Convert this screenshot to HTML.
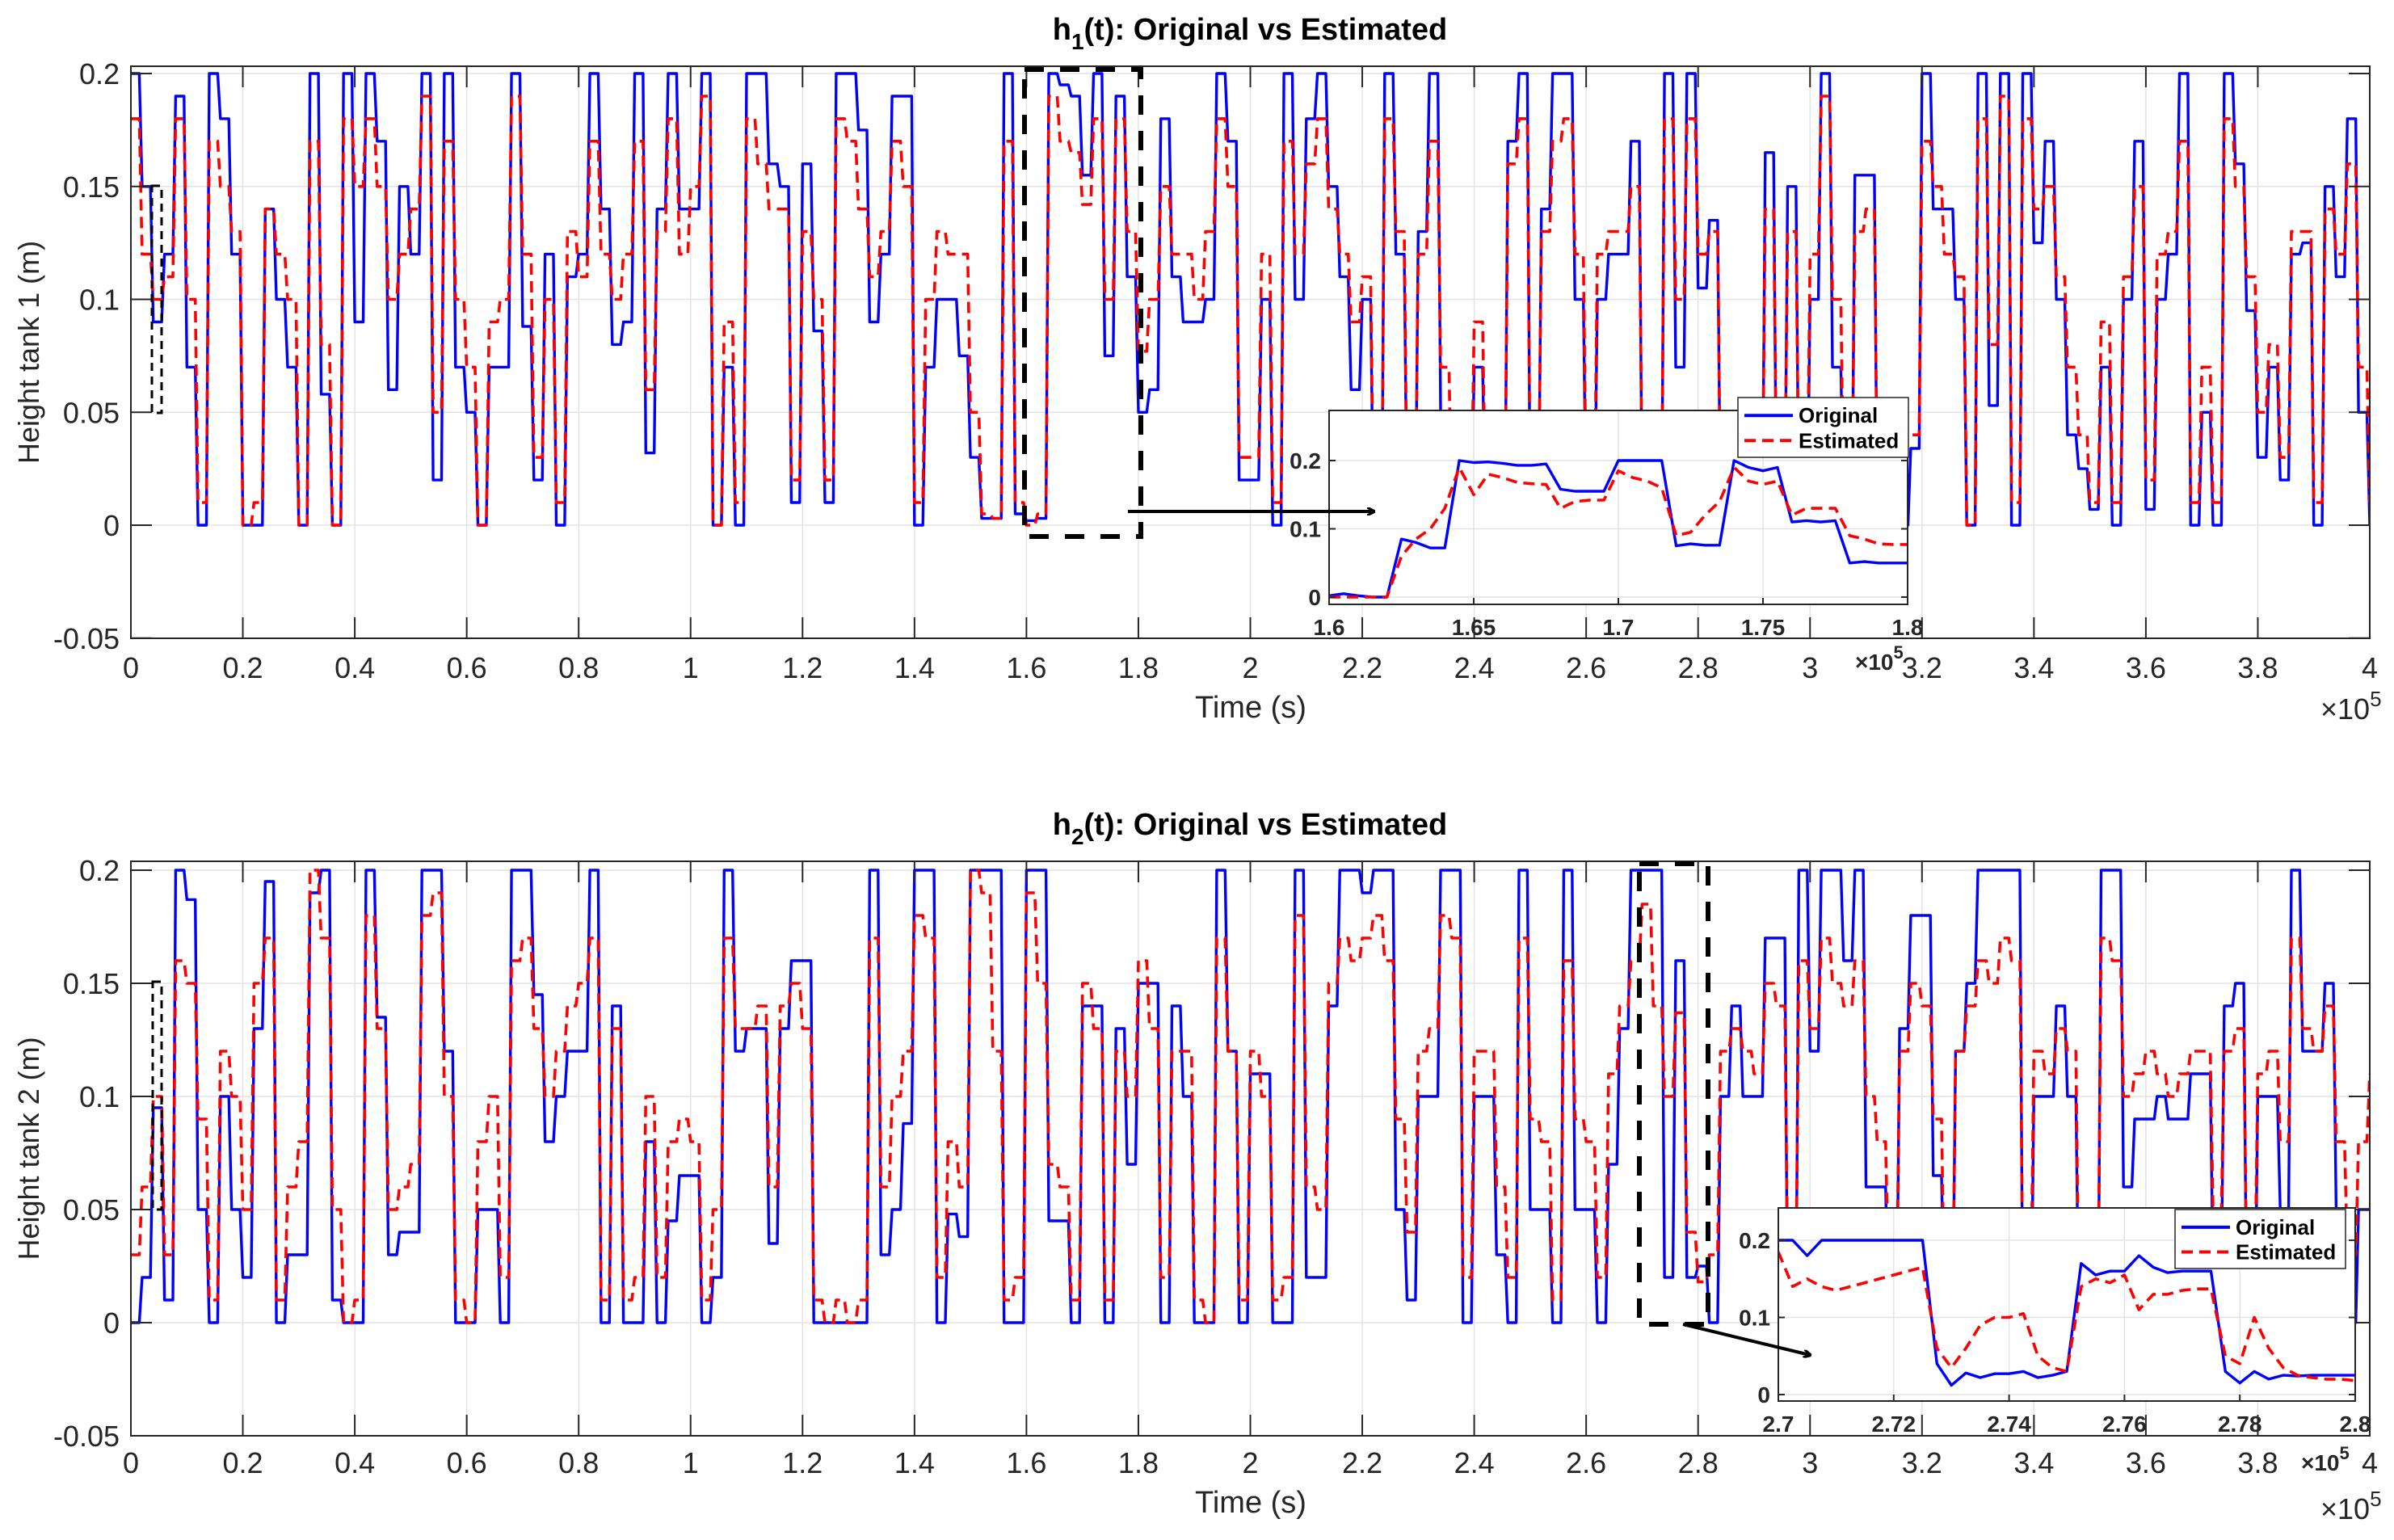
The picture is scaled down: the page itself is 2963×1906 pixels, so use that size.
<!DOCTYPE html>
<html><head><meta charset="utf-8"><style>
html,body{margin:0;padding:0;background:#fff}
svg{display:block}
text{font-family:"Liberation Sans",Arial,sans-serif}
</style></head><body>
<svg id="fig" width="2963" height="1906" viewBox="0 0 2963 1906" xmlns="http://www.w3.org/2000/svg">
<defs>
<clipPath id="cTop"><rect x="162" y="82" width="2771" height="708"/></clipPath>
<clipPath id="cBot"><rect x="162" y="1066" width="2771" height="711"/></clipPath>
<clipPath id="cInTop"><rect x="1645" y="508" width="716" height="240"/></clipPath>
<clipPath id="cInBot"><rect x="2201" y="1495" width="714" height="239"/></clipPath>
<marker id="arr" markerWidth="10" markerHeight="10" refX="8" refY="5" orient="auto" markerUnits="userSpaceOnUse"><path d="M0,0 L10,5 L0,10" fill="none" stroke="#000" stroke-width="3"/></marker>
</defs>
</svg>
<script>
// ---- data: uniform time grid, step 2000 s ----
const stepMain = 2000;
const h1Original = [0.2,0.15,0.09,0.12,0.19,0.07,0,0.2,0.18,0.12,0,0,0.14,0.1,0.07,0,0.2,0.058,0,0.2,0.09,0.2,0.17,0.06,0.15,0.12,0.2,0.02,0.2,0.07,0.05,0,0.07,0.07,0.2,0.088,0.02,0.12,0,0.11,0.12,0.2,0.14,0.08,0.09,0.2,0.032,0.14,0.2,0.14,0.14,0.2,0,0.07,0,0.2,0.2,0.16,0.15,0.01,0.16,0.086,0.01,0.2,0.2,0.175,0.09,
0.12,0.19,0.19,0,0.07,0.1,0.1,0.075,0.03,0.003,0.003,0.2,0.005,
0.002,0.003,0.2,0.195,0.19,0.155,0.2,0.075,0.19,0.11,0.05,
0.06,0.18,0.11,0.09,0.09,0.1,0.2,0.17,0.02,0.02,0.1,0,0.2,0.1,0.18,0.2,0.15,0.11,0.06,0.1,0,0.2,0.12,0,0.13,0.2,0.05,0,0,0.07,0,0,0.17,0.2,0,0.14,0.2,0.2,0.1,0,0.1,0.12,
0.12,0.17,0,0,0.2,0.07,0.2,0.105,0.135,0,0.02,0,0,0.165,0,0.15,0,0.1,0.2,0.07,0,0.155,0.155,0,0,0,0.034,0.2,0.14,0.14,0.1,0,0.2,0.053,0.2,0,0.2,0.125,0.17,0.1,0.04,0.025,0.007,0.07,0,0.1,0.17,0.007,0.1,0.12,0.2,0,0.05,0,0.2,0.16,0.095,0.03,0.07,0.02,0.12,0.125,0,0.15,0.11,0.18,0.05,0];
const h1Estimated = [0.18,0.12,0.1,0.11,0.18,0.1,0.01,0.17,0.15,0.13,0,0.01,0.14,0.12,0.1,0,0.17,0.08,0,0.18,0.15,0.18,0.15,0.1,0.12,0.14,0.19,0.05,0.17,0.1,0.07,0,0.09,0.1,0.19,0.12,0.03,0.1,0.01,0.13,0.11,0.17,0.12,0.1,0.12,0.17,0.06,0.13,0.18,0.12,0.15,0.19,0,0.09,0.01,0.18,0.16,0.14,0.14,0.02,0.13,0.1,0.02,0.18,0.17,0.14,0.11,
0.13,0.17,0.15,0.01,0.1,0.13,0.12,0.12,0.05,0.005,0.003,0.17,0.01,
0,0.005,0.19,0.17,0.165,0.142,0.18,0.1,0.18,0.13,0.077,
0.1,0.15,0.12,0.12,0.1,0.13,0.18,0.15,0.03,0.03,0.12,0.01,0.17,0.12,0.16,0.18,0.14,0.12,0.09,0.11,0.01,0.18,0.13,0.01,0.12,0.17,0.07,0,0.01,0.09,0.01,0,0.16,0.18,0.01,0.13,0.17,0.18,0.12,0.01,0.12,0.13,
0.13,0.15,0.01,0.01,0.18,0.1,0.18,0.12,0.13,0.01,0.03,0,0.01,0.14,0.02,0.13,0.01,0.12,0.19,0.1,0.01,0.13,0.14,0.02,0.05,0.04,0.04,0.17,0.15,0.12,0.11,0,0.18,0.08,0.19,0.01,0.18,0.14,0.15,0.11,0.07,0.04,0.01,0.09,0.01,0.11,0.15,0.02,0.12,0.13,0.17,0.01,0.07,0.01,0.18,0.15,0.11,0.05,0.08,0.03,0.13,0.13,0.01,0.14,0.12,0.16,0.07,0.01];
const h2Original = [0,0.02,0.095,0.01,0.2,0.187,0.05,0,0.1,0.05,0.02,0.13,0.195,0,0.03,0.03,0.19,0.2,0.01,0,0,0.2,0.135,0.03,0.04,0.04,0.2,0.2,0.12,0,0,0.05,0.05,0,0.2,0.2,0.145,0.08,0.1,0.12,0.12,0.2,0,0.14,0,0,0.08,0,0.045,0.065,0.065,0,0.02,0.2,0.12,0.13,0.13,0.035,0.13,0.16,0.16,0,0,0,0,0,0.2,
0.03,0.05,0.088,0.2,0.2,0,0.048,0.038,0.2,0.2,0.2,0,0,0.2,0.2,0.045,0.045,0,0.14,0.14,0,0.13,0.07,0.15,0.15,0,0.14,0.1,0,0,0.2,0.12,0,0.11,0.11,0,0,0.2,0.02,0.02,0.14,0.2,0.2,0.19,0.2,0.2,0.05,0.01,0.1,0.1,0.2,0.2,0,0.1,0.1,0.03,0,0.2,0.05,0.05,0,0.2,0.05,0.05,0,0.07,
0.13,0.2,0.2,0.2,0.02,0.16,0.02,0.025,0,0.1,0.14,0.1,0.1,0.17,0.17,0,0.2,0.12,0.2,0.2,0.16,0.2,0.06,0.06,0,0.13,0.18,0.18,0.065,0,0.12,0.15,0.2,0.2,0.2,0.2,0,0.1,0.1,0.14,0.1,0,0,0.2,0.2,0.06,0.09,0.09,0.1,0.09,0.09,0.11,0.11,0.02,0.14,0.15,0,0.1,0.1,0.05,0.2,0.12,0.12,0.15,0.05,0,0.05,0.05];
const h2Estimated = [0.03,0.06,0.1,0.03,0.16,0.15,0.09,0.01,0.12,0.1,0.05,0.15,0.17,0.01,0.06,0.08,0.2,0.17,0.05,0,0.01,0.18,0.13,0.05,0.06,0.07,0.18,0.19,0.1,0.01,0,0.08,0.1,0.02,0.16,0.17,0.13,0.1,0.12,0.14,0.15,0.17,0.01,0.13,0.01,0.02,0.1,0.02,0.08,0.09,0.08,0.01,0.05,0.17,0.13,0.13,0.14,0.06,0.14,0.15,0.13,0.01,0,0.01,0,0.01,0.17,
0.06,0.1,0.12,0.18,0.17,0.02,0.08,0.06,0.2,0.19,0.12,0.01,0.02,0.19,0.15,0.07,0.06,0.01,0.15,0.13,0.01,0.12,0.1,0.16,0.13,0.02,0.12,0.12,0.01,0,0.17,0.12,0.01,0.12,0.1,0.01,0.02,0.18,0.06,0.05,0.15,0.17,0.16,0.17,0.18,0.16,0.09,0.04,0.12,0.13,0.18,0.17,0.02,0.12,0.12,0.06,0.02,0.17,0.09,0.08,0.01,0.16,0.09,0.08,0.02,0.11,
0.14,0.16,0.185,0.14,0.1,0.137,0.04,0.018,0.03,0.12,0.13,0.12,0.11,0.15,0.14,0.02,0.16,0.13,0.17,0.15,0.14,0.16,0.1,0.08,0.02,0.12,0.15,0.14,0.09,0.01,0.12,0.14,0.16,0.15,0.17,0.16,0.02,0.12,0.11,0.13,0.12,0.01,0.02,0.17,0.16,0.1,0.11,0.12,0.11,0.1,0.11,0.12,0.12,0.05,0.12,0.13,0.02,0.11,0.12,0.08,0.17,0.13,0.12,0.14,0.08,0.03,0.08,0.11];
// inset 1: t from 160000, step 500 s
const in1Start = 160000, in1Step = 500;
const in1Original = [0.002,0.005,0.002,0,0,0.085,0.08,0.072,0.072,0.2,0.197,0.198,0.196,0.193,0.193,0.195,0.158,0.155,0.155,0.155,0.2,0.2,0.2,0.2,0.075,0.078,0.076,0.076,0.2,0.19,0.185,0.19,0.11,0.112,0.11,0.112,0.05,0.052,0.05,0.05,0.05];
const in1Estimated = [0,0,0,0,0,0.06,0.085,0.1,0.13,0.19,0.15,0.18,0.175,0.168,0.166,0.165,0.13,0.14,0.142,0.142,0.185,0.175,0.17,0.16,0.09,0.095,0.12,0.14,0.19,0.17,0.165,0.17,0.12,0.13,0.13,0.13,0.09,0.085,0.078,0.077,0.077];
// inset 2: t from 270000, step 250 s
const in2Start = 270000, in2Step = 250;
const in2Original = [0.2,0.2,0.18,0.2,0.2,0.2,0.2,0.2,0.2,0.2,0.2,0.04,0.012,0.028,0.022,0.027,0.027,0.03,0.022,0.025,0.03,0.17,0.155,0.16,0.16,0.18,0.165,0.158,0.16,0.16,0.16,0.03,0.015,0.03,0.02,0.025,0.024,0.025,0.025,0.025,0.025];
const in2Estimated = [0.185,0.14,0.15,0.14,0.135,0.14,0.145,0.15,0.155,0.16,0.165,0.06,0.035,0.06,0.09,0.1,0.1,0.105,0.05,0.035,0.03,0.14,0.15,0.145,0.155,0.11,0.13,0.13,0.135,0.137,0.137,0.05,0.04,0.1,0.06,0.035,0.025,0.022,0.02,0.02,0.018];
// tick labels
const mainXTicks = [0,0.2,0.4,0.6,0.8,1,1.2,1.4,1.6,1.8,2,2.2,2.4,2.6,2.8,3,3.2,3.4,3.6,3.8,4];
const mainYTicks = [-0.05,0,0.05,0.1,0.15,0.2];
const in1XTicks = [1.6,1.65,1.7,1.75,1.8];
const in2XTicks = [2.7,2.72,2.74,2.76,2.78,2.8];
const inYTicks = [0,0.1,0.2];

const NS = "http://www.w3.org/2000/svg";
const svg = document.getElementById('fig');
function mk(tag, attrs, parent){const e=document.createElementNS(NS,tag);for(const k in attrs)e.setAttribute(k,attrs[k]);(parent||svg).appendChild(e);return e;}
function lbl(v){return String(Math.round(v*1000)/1000);}

const X0=162, X1=2933;
function xMain(t){return X0+t/400000*(X1-X0);}
function yTop(v){return 650-v*2795;}
function yBot(v){return 1637-v*2800;}
function xIn1(t){return 1645+(t-160000)/20000*716;}
function yIn1(v){return 739-v*845;}
function xIn2(t){return 2201+(t-270000)/10000*714;}
function yIn2(v){return 1726-v*1.005*950;}

// hold: fraction of each step the value is held before ramping to the next
function series(vals, t0, dt, xf, yf, color, dashed, clip, name, hold){
  let d='';
  vals.forEach((v,i)=>{
    d+=(i?'L':'M')+xf(t0+i*dt).toFixed(1)+','+yf(v).toFixed(1);
    if(hold && i<vals.length-1) d+='L'+xf(t0+(i+hold)*dt).toFixed(1)+','+yf(v).toFixed(1);
  });
  const p=mk('path',{d:d,fill:'none',stroke:color,'stroke-width':dashed?3.6:3.4,'stroke-linejoin':'round','clip-path':'url(#'+clip+')'});
  if(dashed)p.setAttribute('stroke-dasharray','14,8');
  
  
  return p;
}

function mainAxes(top, bottom, yf, clip, idx){
  const g=mk('g',{});
  
  
  mk('rect',{x:X0,y:top,width:X1-X0,height:bottom-top,fill:'#fff'},g);
  mainXTicks.forEach(v=>{const x=xMain(v*1e5);mk('line',{x1:x,x2:x,y1:top,y2:bottom,stroke:'#e3e3e3','stroke-width':1.5},g);});
  mainYTicks.forEach(v=>{const y=yf(v);mk('line',{x1:X0,x2:X1,y1:y,y2:y,stroke:'#e3e3e3','stroke-width':1.5},g);});
  return g;
}
function mainFrame(top,bottom,yf,idx,titleY,tickY,xlabY,x10Y,ylabel){
  const g=mk('g',{});
  
  
  mk('rect',{x:X0,y:top,width:X1-X0,height:bottom-top,fill:'none',stroke:'#262626','stroke-width':2},g);
  mainXTicks.forEach(v=>{const x=xMain(v*1e5);
    mk('line',{x1:x,x2:x,y1:bottom,y2:bottom-26,stroke:'#262626','stroke-width':2},g);
    mk('line',{x1:x,x2:x,y1:top,y2:top+26,stroke:'#262626','stroke-width':2},g);
    const t=mk('text',{x:x,y:tickY,'font-size':36,fill:'#262626','text-anchor':'middle'},g);t.textContent=lbl(v);
    
    
  });
  mainYTicks.forEach(v=>{const y=yf(v);
    mk('line',{x1:X0,x2:X0+26,y1:y,y2:y,stroke:'#262626','stroke-width':2},g);
    mk('line',{x1:X1,x2:X1-26,y1:y,y2:y,stroke:'#262626','stroke-width':2},g);
    const t=mk('text',{x:148,y:y+13,'font-size':36,fill:'#262626','text-anchor':'end'},g);t.textContent=lbl(v);
    
    
  });
  const xl=mk('text',{x:1548,y:xlabY,'font-size':38,fill:'#262626','text-anchor':'middle'},g);xl.textContent='Time (s)';
  
  
  const ex=mk('text',{x:2872,y:x10Y,'font-size':36,fill:'#262626'},g);
  ex.innerHTML='×10<tspan dy="-16" font-size="26">5</tspan>';
  
  
  const cy=(top+bottom)/2;
  const yl=mk('text',{x:0,y:0,'font-size':36,fill:'#262626','text-anchor':'middle',transform:'translate(48,'+cy+') rotate(-90)'},g);yl.textContent=ylabel;
  
  
  const ti=mk('text',{x:1547,y:titleY,'font-size':38,'font-weight':'bold',fill:'#000','text-anchor':'middle'},g);
  ti.innerHTML='h<tspan dy="12" font-size="28">'+idx+'</tspan><tspan dy="-12">(t): Original vs Estimated</tspan>';
  
  
}

function inset(l,r,t,b,xf,yf,xt,yt,clip,o,e,t0,dt,idx,tickY){
  const g=mk('g',{});
  
  
  mk('rect',{x:l,y:t,width:r-l,height:b-t,fill:'#fff'},g);
  xt.forEach(v=>{const x=xf(v*1e5);mk('line',{x1:x,x2:x,y1:t,y2:b,stroke:'#e3e3e3','stroke-width':1.5},g);});
  yt.forEach(v=>{const y=yf(v);mk('line',{x1:l,x2:r,y1:y,y2:y,stroke:'#e3e3e3','stroke-width':1.5},g);});
  series(o,t0,dt,xf,yf,'#0000ff',false,clip,'inset'+idx+'-original-line',0);
  series(e,t0,dt,xf,yf,'#ff0000',true,clip,'inset'+idx+'-estimated-line',0);
  const g2=mk('g',{});
  
  
  mk('rect',{x:l,y:t,width:r-l,height:b-t,fill:'none',stroke:'#262626','stroke-width':2},g2);
  xt.forEach(v=>{const x=xf(v*1e5);
    mk('line',{x1:x,x2:x,y1:b,y2:b-8,stroke:'#262626','stroke-width':2},g2);
    const tx=mk('text',{x:x,y:tickY,'font-size':28,'font-weight':'bold',fill:'#262626','text-anchor':'middle'},g2);tx.textContent=lbl(v);
    
    
  });
  yt.forEach(v=>{const y=yf(v);
    mk('line',{x1:l,x2:l+8,y1:y,y2:y,stroke:'#262626','stroke-width':2},g2);
    mk('line',{x1:r,x2:r-8,y1:y,y2:y,stroke:'#262626','stroke-width':2},g2);
    const tx=mk('text',{x:l-10,y:y+10,'font-size':28,'font-weight':'bold',fill:'#262626','text-anchor':'end'},g2);tx.textContent=lbl(v);
    
    
  });
}
function legend(l,t,w,h,idx){
  const g=mk('g',{});
  
  
  mk('rect',{x:l,y:t,width:w,height:h,fill:'#fff',stroke:'#262626','stroke-width':1.5},g);
  const y1=t+h*0.3, y2=t+h*0.72;
  mk('line',{x1:l+8,x2:l+68,y1:y1,y2:y1,stroke:'#0000ff','stroke-width':4},g);
  mk('line',{x1:l+8,x2:l+68,y1:y2,y2:y2,stroke:'#ff0000','stroke-width':4,'stroke-dasharray':'14,8'},g);
  const a=mk('text',{x:l+75,y:y1+9,'font-size':26,'font-weight':'bold',fill:'#000'},g);a.textContent='Original';
  
  
  const b=mk('text',{x:l+75,y:y2+9,'font-size':26,'font-weight':'bold',fill:'#000'},g);b.textContent='Estimated';
  
  
}
function dashRect(x1,y1,x2,y2,w,dash,name){
  const r=mk('rect',{x:x1,y:y1,width:x2-x1,height:y2-y1,fill:'none',stroke:'#000','stroke-width':w,'stroke-dasharray':dash});
  
  
}
function arrow(x1,y1,x2,y2,name){
  const a=mk('line',{x1:x1,y1:y1,x2:x2,y2:y2,stroke:'#000','stroke-width':4,'marker-end':'url(#arr)'});
  
  
}

// ---- top subplot ----
mainAxes(82,790,yTop,'cTop',1);
series(h1Original,0,stepMain,xMain,yTop,'#0000ff',false,'cTop','h1-original-line',0.75);
series(h1Estimated,0,stepMain,xMain,yTop,'#ff0000',true,'cTop','h1-estimated-line',0.75);
mainFrame(82,790,yTop,1,49,839,888,890,'Height tank 1 (m)');
dashRect(188,230,200,511,3,'10,7','small-zoom-box-1');
dashRect(1268,86,1412,664,6,'24,20','zoom-box-1');
inset(1645,2361,508,748,xIn1,yIn1,in1XTicks,inYTicks,'cInTop',in1Original,in1Estimated,in1Start,in1Step,1,786);
(function(){const t=mk('text',{x:2296,y:829,'font-size':28,'font-weight':'bold',fill:'#262626'});t.innerHTML='×10<tspan dy="-14" font-size="22">5</tspan>';

})();
legend(2151,492,211,74,1);
arrow(1396,633,1700,633,'zoom-arrow-1');

// ---- bottom subplot ----
mainAxes(1066,1777,yBot,'cBot',2);
series(h2Original,0,stepMain,xMain,yBot,'#0000ff',false,'cBot','h2-original-line',0.75);
series(h2Estimated,0,stepMain,xMain,yBot,'#ff0000',true,'cBot','h2-estimated-line',0.75);
mainFrame(1066,1777,yBot,2,1033,1823,1872,1880,'Height tank 2 (m)');
dashRect(189,1215,200,1497,3,'10,7','small-zoom-box-2');
dashRect(2029,1069,2114,1639,6,'24,20','zoom-box-2');
inset(2201,2915,1495,1734,xIn2,yIn2,in2XTicks,inYTicks,'cInBot',in2Original,in2Estimated,in2Start,in2Step,2,1772);
(function(){const t=mk('text',{x:2848,y:1820,'font-size':28,'font-weight':'bold',fill:'#262626'});t.innerHTML='×10<tspan dy="-14" font-size="22">5</tspan>';

})();
legend(2692,1497,211,73,2);
arrow(2083,1639,2240,1677,'zoom-arrow-2');
</script>
</body></html>
